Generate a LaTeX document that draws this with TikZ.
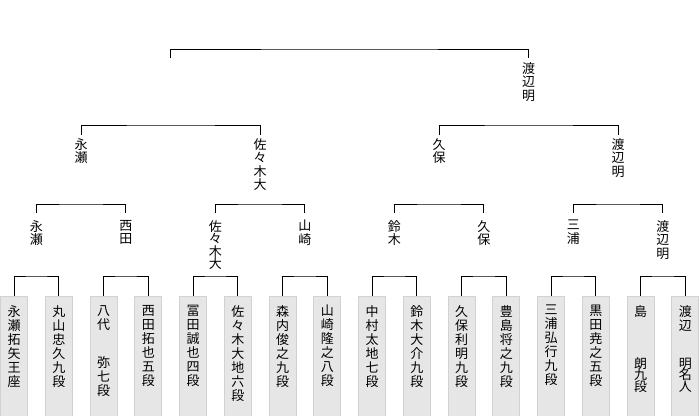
\documentclass[tikz,border=0pt]{standalone}
\usepackage{fontspec}
\newfontfamily\jp{Noto Sans CJK JP}
\tikzset{
  wire/.style={line width=1pt, draw=black},
  leafbox/.style={draw={rgb,255:red,210;green,210;blue,210}, fill={rgb,255:red,230;green,230;blue,230},
    line width=0.8pt, minimum width=27pt, minimum height=125pt, anchor=north, inner sep=0pt},
  leaftext/.style={anchor=north, inner sep=0pt, align=center,
    font=\jp\fontsize{13}{14}\selectfont},
  lbl/.style={anchor=north, inner xsep=0pt, inner ysep=#1, align=center,
    font=\jp\fontsize{13}{13.5}\selectfont},
}
\begin{document}
\begin{tikzpicture}[x=1pt, y=-1pt]
\useasboundingbox (0,0) rectangle (700,415);
% leaf boxes
\foreach \i/\x in {1/14,2/58.75,3/103.5,4/148.25,5/193,6/237.75,7/282.5,8/327.25,9/372,10/416.75,11/461.5,12/506.25,13/551,14/595.75,15/640.5,16/685.25}{
  \node[leafbox] (B\i) at (\x,296) {};
}
% leaf texts
\node[leaftext] (N1) at (14,305) {永\\瀬\\拓\\矢\\王\\座};
\node[leaftext] (N2) at (58.75,305) {丸\\山\\忠\\久\\九\\段};
\node[leaftext] (N3) at (103.5,305) {八\\代\\[24pt]弥\\七\\段};
\node[leaftext] (N4) at (148.25,305) {西\\田\\拓\\也\\五\\段};
\node[leaftext] (N5) at (193,305) {冨\\田\\誠\\也\\四\\段};
\node[leaftext] (N6) at (237.75,305) {佐\\々\\木\\大\\地\\六\\段};
\node[leaftext] (N7) at (282.5,305) {森\\内\\俊\\之\\九\\段};
\node[leaftext] (N8) at (327.25,305) {山\\崎\\隆\\之\\八\\段};
\node[leaftext] (N9) at (372,305) {中\\村\\太\\地\\七\\段};
\node[leaftext] (N10) at (416.75,305) {鈴\\木\\大\\介\\九\\段};
\node[leaftext] (N11) at (461.5,305) {久\\保\\利\\明\\九\\段};
\node[leaftext] (N12) at (506.25,305) {豊\\島\\将\\之\\九\\段};
\node[leaftext] (N13) at (551,305) {三\\浦\\弘\\行\\九\\段};
\node[leaftext] (N14) at (595.75,305) {黒\\田\\尭\\之\\五\\段};
\node[leaftext] (N15) at (640.5,305) {島\\[38pt]朗\\[-2.5pt]九\\[-2.5pt]段};
\node[leaftext] (N16) at (685.25,305) {渡\\辺\\[24pt]明\\[-2.5pt]名\\[-2.5pt]人};
% level-1 labels (pair winners)
\node[lbl=7pt] (A1) at (36.375,213) {永\\瀬};
\node[lbl=7pt] (A2) at (125.875,213) {西\\田};
\node[lbl=7pt] (A3) at (215.375,213) {佐\\[-1pt]々\\[-1pt]木\\[-1pt]大};
\node[lbl=7pt] (A4) at (304.875,213) {山\\崎};
\node[lbl=7pt] (A5) at (394.375,213) {鈴\\木};
\node[lbl=7pt] (A6) at (483.875,213) {久\\保};
\node[lbl=7pt] (A7) at (573.375,213) {三\\浦};
\node[lbl=7pt] (A8) at (662.875,213) {渡\\辺\\明};
% level-2 labels
\node[lbl=3pt] (C1) at (81.125,135) {永\\瀬};
\node[lbl=3pt] (C2) at (260.125,135) {佐\\々\\木\\大};
\node[lbl=3pt] (C3) at (439.125,135) {久\\保};
\node[lbl=3pt] (C4) at (618.125,135) {渡\\辺\\明};
% level-3
\coordinate (D1) at (170.625,58);
\node[lbl=4pt] (D2) at (528.625,58) {渡\\辺\\明};
% bracket apexes
\foreach \j/\x in {1/36.375,2/125.875,3/215.375,4/304.875,5/394.375,6/483.875,7/573.375,8/662.875}{
  \coordinate (P\j) at (\x,276);
}
\foreach \k/\x in {1/81.125,2/260.125,3/439.125,4/618.125}{
  \coordinate (Q\k) at (\x,204);
}
\coordinate (H1) at (170.625,125);
\coordinate (H2) at (528.625,125);
\coordinate (T) at (349.625,49);
% connectors
\foreach \j [evaluate=\j as \a using int(2*\j-1), evaluate=\j as \b using int(2*\j)] in {1,...,8}{
  \draw[wire] (B\a.north) |- (P\j) -| (B\b.north);
}
\draw[wire] (A1.north) |- (Q1) -| (A2.north);
\draw[wire] (A3.north) |- (Q2) -| (A4.north);
\draw[wire] (A5.north) |- (Q3) -| (A6.north);
\draw[wire] (A7.north) |- (Q4) -| (A8.north);
\draw[wire] (C1.north) |- (H1) -| (C2.north);
\draw[wire] (C3.north) |- (H2) -| (C4.north);
\draw[wire] (D1) |- (T) -| (D2.north);
\end{tikzpicture}
\end{document}
